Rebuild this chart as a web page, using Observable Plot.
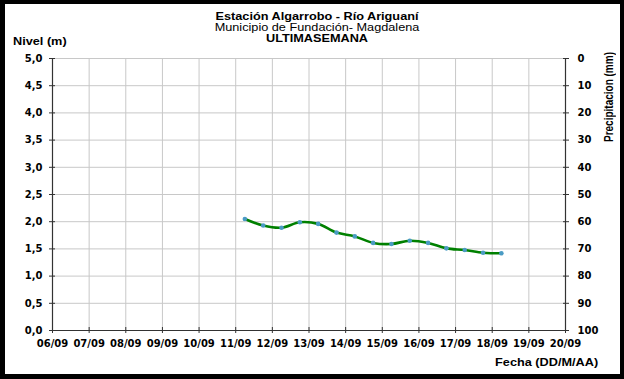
<!DOCTYPE html>
<html><head><meta charset="utf-8">
<script src="https://cdn.jsdelivr.net/npm/d3@7"></script>
<script src="https://cdn.jsdelivr.net/npm/@observablehq/plot@0.6"></script>
<style>
body{margin:0;background:#fff;}
#wrap{position:relative;width:624px;height:379px;font-family:"Liberation Sans",Arial,sans-serif;overflow:hidden;}
#border{position:absolute;left:0;top:0;width:624px;height:379px;box-sizing:border-box;border-style:solid;border-color:#000;border-width:4px 4px 5px 5px;pointer-events:none;}
.t{position:absolute;white-space:nowrap;font-size:10px;line-height:11px;color:#000;}
.b{font-weight:bold;}
.c{left:117px;width:400px;text-align:center;transform:scaleX(1.27);transform-origin:center;}
#chart{position:absolute;left:0;top:0;}
</style></head><body>
<div id="wrap">
<div id="chart"></div>
<div class="t b c" style="top:10.5px;">Estación Algarrobo - Río Ariguaní</div>
<div class="t c" style="top:21.5px;">Municipio de Fundación- Magdalena</div>
<div class="t b c" style="top:33px;">ULTIMASEMANA</div>
<div class="t b" style="left:13px;top:35.5px;transform:scaleX(1.27);transform-origin:left;">Nivel (m)</div>
<div class="t b" style="right:26px;top:357px;transform:scaleX(1.27);transform-origin:right;">Fecha (DD/M/AA)</div>
<div class="t b" style="left:603px;top:52px;writing-mode:vertical-rl;transform:rotate(180deg) scaleX(1.2);line-height:11px;">Precipitacion (mm)</div>
<div id="border"></div>
</div>
<script>
// ---- data ----
const times = ["2012-09-11T06:00","2012-09-11T18:00","2012-09-12T06:00","2012-09-12T18:00","2012-09-13T06:00","2012-09-13T18:00","2012-09-14T06:00","2012-09-14T18:00","2012-09-15T06:00","2012-09-15T18:00","2012-09-16T06:00","2012-09-16T18:00","2012-09-17T06:00","2012-09-17T18:00","2012-09-18T06:00"];
const levels = [2.05,1.93,1.89,1.99,1.96,1.80,1.73,1.61,1.59,1.65,1.61,1.51,1.48,1.43,1.42];
const dayTicks = ["2012-09-06","2012-09-07","2012-09-08","2012-09-09","2012-09-10","2012-09-11","2012-09-12","2012-09-13","2012-09-14","2012-09-15","2012-09-16","2012-09-17","2012-09-18","2012-09-19","2012-09-20"];
const levelTicks = [0,0.5,1,1.5,2,2.5,3,3.5,4,4.5,5];
const precipTicks = [0,10,20,30,40,50,60,70,80,90,100];

const parse = s => new Date(s + (s.length > 10 ? ":00Z" : "T00:00:00Z"));
const data = times.map((t, i) => ({t: parse(t), v: levels[i]}));
const days = dayTicks.map(parse);
const xDomain = [days[0], days[days.length - 1]];
const precipMax = 100, levelMax = 5;
const precipPos = precipTicks.map(p => (precipMax - p) / precipMax * levelMax);
const fmtLevel = d => d3.format(".1f")(d).replace(".", ",");
const fmtDay = d3.utcFormat("%d/%m");
const blank = () => "";
const grid = "#c8c8c8", axisCol = "#333";

const plot = Plot.plot({
  width: 624, height: 379,
  marginLeft: 52, marginRight: 59, marginTop: 58, marginBottom: 49,
  style: {fontFamily: "DejaVu Sans, sans-serif", fontSize: "10px", fontWeight: "bold", background: "transparent", color: "#000"},
  x: {type: "utc", domain: xDomain},
  y: {domain: [0, levelMax]},
  marks: [
    Plot.gridX(days, {stroke: grid, strokeOpacity: 1}),
    Plot.gridY(levelTicks, {stroke: grid, strokeOpacity: 1}),
    Plot.ruleX(xDomain, {stroke: axisCol, strokeWidth: 1.2}),
    Plot.ruleY([0], {stroke: axisCol, strokeWidth: 1.2}),
    Plot.axisY(levelTicks, {anchor: "left", tickSize: 6, dx: 3, tickFormat: blank, label: null, stroke: axisCol}),
    Plot.axisY(levelTicks, {anchor: "left", tickSize: 0, tickPadding: 10, tickFormat: fmtLevel, label: null, fill: "#000"}),
    Plot.axisY(precipPos, {anchor: "right", tickSize: 6, dx: -3, tickFormat: blank, label: null, stroke: axisCol}),
    Plot.axisY(precipPos, {anchor: "right", tickSize: 0, tickPadding: 12, tickFormat: v => String(Math.round(precipMax - v / levelMax * precipMax)), label: null, fill: "#000"}),
    Plot.axisX(days, {anchor: "bottom", tickSize: 6, dy: -3, tickFormat: blank, label: null, stroke: axisCol}),
    Plot.axisX(days, {anchor: "bottom", tickSize: 0, tickPadding: 9, tickFormat: fmtDay, label: null, fill: "#000"}),
    Plot.line(data, {x: "t", y: "v", curve: "catmull-rom", stroke: "#008000", strokeWidth: 2.6}),
    Plot.dot(data, {x: "t", y: "v", r: 2.3, fill: "#4a9bc4", stroke: "none"})
  ]
});
document.getElementById("chart").appendChild(plot);
</script>
</body></html>
